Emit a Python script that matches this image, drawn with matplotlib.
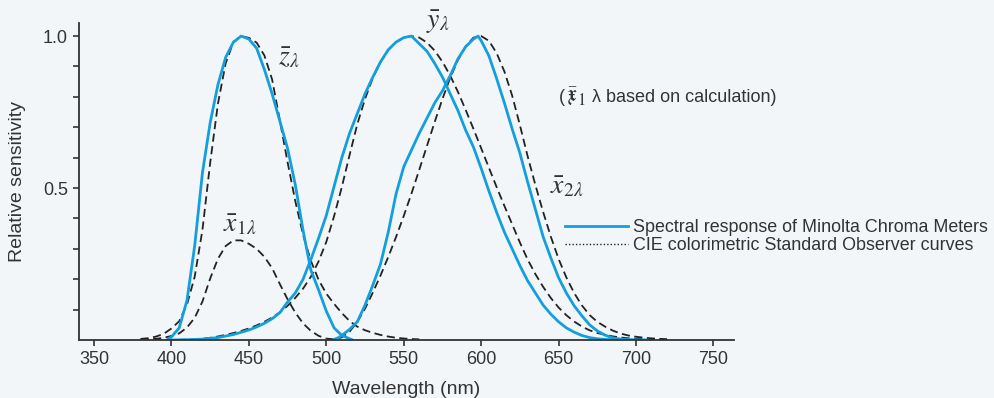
import matplotlib
matplotlib.use('Agg')
import matplotlib.pyplot as plt
import numpy as np
from matplotlib.lines import Line2D

plt.rcParams['font.family'] = ['Liberation Sans', 'DejaVu Sans']
plt.rcParams['mathtext.fontset'] = 'stix'

# CIE 1931 standard observer (dashed), 5 nm steps
wl_cie = list(range(380, 725, 5))
x_cie = [0.0014, 0.0022, 0.0042, 0.0077, 0.0143, 0.0232, 0.0435, 0.0776, 0.1344, 0.2148,
         0.2839, 0.3285, 0.3483, 0.3481, 0.3362, 0.3187, 0.2908, 0.2511, 0.1954, 0.1421,
         0.0956, 0.0580, 0.0320, 0.0147, 0.0049, 0.0024, 0.0093, 0.0291, 0.0633, 0.1096,
         0.1655, 0.2257, 0.2904, 0.3597, 0.4334, 0.5121, 0.5945, 0.6784, 0.7621, 0.8425,
         0.9163, 0.9786, 1.0263, 1.0567, 1.0622, 1.0456, 1.0026, 0.9384, 0.8544, 0.7514,
         0.6424, 0.5419, 0.4479, 0.3608, 0.2835, 0.2187, 0.1649, 0.1212, 0.0874, 0.0636,
         0.0468, 0.0329, 0.0227, 0.0158, 0.0114, 0.0081, 0.0058, 0.0041, 0.0029]
y_cie = [0.0000, 0.0001, 0.0001, 0.0002, 0.0004, 0.0006, 0.0012, 0.0022, 0.0040, 0.0073,
         0.0116, 0.0168, 0.0230, 0.0298, 0.0380, 0.0480, 0.0600, 0.0739, 0.0910, 0.1126,
         0.1390, 0.1693, 0.2080, 0.2586, 0.3230, 0.4073, 0.5030, 0.6082, 0.7100, 0.7932,
         0.8620, 0.9149, 0.9540, 0.9803, 0.9950, 1.0000, 0.9950, 0.9786, 0.9520, 0.9154,
         0.8700, 0.8163, 0.7570, 0.6949, 0.6310, 0.5668, 0.5030, 0.4412, 0.3810, 0.3210,
         0.2650, 0.2170, 0.1750, 0.1382, 0.1070, 0.0816, 0.0610, 0.0446, 0.0320, 0.0232,
         0.0170, 0.0119, 0.0082, 0.0057, 0.0041, 0.0029, 0.0021, 0.0015, 0.0010]
z_cie = [0.0065, 0.0106, 0.0201, 0.0362, 0.0679, 0.1102, 0.2074, 0.3713, 0.6456, 1.0391,
         1.3856, 1.6230, 1.7471, 1.7826, 1.7721, 1.7441, 1.6692, 1.5281, 1.2876, 1.0419,
         0.8130, 0.6162, 0.4652, 0.3533, 0.2720, 0.2123, 0.1582, 0.1117, 0.0783, 0.0573,
         0.0422, 0.0298, 0.0203, 0.0134, 0.0088, 0.0058, 0.0039]

# Minolta Chroma Meter response (blue)
wl_z = [397, 400, 405, 410, 415, 420, 425, 430, 435, 440, 445, 450, 455, 460, 465, 470,
        475, 480, 485, 490, 495, 500, 505, 510, 517]
z_min = [0.0, 0.01, 0.04, 0.13, 0.31, 0.55, 0.715, 0.84, 0.93, 0.98, 1.0, 0.99, 0.96,
         0.89, 0.81, 0.72, 0.63, 0.51, 0.36, 0.23, 0.165, 0.095, 0.04, 0.015, 0.0]
wl_y = [400, 410, 420, 430, 440, 450, 455, 460, 465, 470, 475, 480, 485, 490, 495, 500,
        505, 510, 515, 520, 525, 530, 535, 540, 545, 550, 555, 560, 565, 570, 575, 580,
        585, 590, 595, 600, 605, 610, 615, 620, 625, 630, 635, 640, 645, 650, 655, 660,
        665, 670, 675, 680, 690]
y_min = [0.0, 0.001, 0.003, 0.008, 0.018, 0.033, 0.043, 0.055, 0.07, 0.09, 0.125, 0.155,
         0.20, 0.265, 0.335, 0.41, 0.505, 0.60, 0.68, 0.745, 0.81, 0.865, 0.915, 0.955,
         0.98, 0.995, 1.0, 0.975, 0.95, 0.91, 0.865, 0.81, 0.755, 0.69, 0.635, 0.565,
         0.49, 0.42, 0.355, 0.30, 0.245, 0.195, 0.155, 0.115, 0.085, 0.06, 0.04, 0.026,
         0.015, 0.008, 0.004, 0.002, 0.0]
wl_x2 = [504, 508, 510, 515, 520, 525, 530, 535, 540, 545, 550, 555, 560, 565, 570, 575,
         580, 585, 590, 595, 598, 600, 605, 610, 615, 620, 625, 630, 635, 640, 645, 650,
         655, 660, 665, 670, 675, 680, 685, 690, 695, 700, 708]
x2_min = [0.0, 0.008, 0.015, 0.035, 0.06, 0.115, 0.18, 0.25, 0.355, 0.48, 0.57, 0.625,
          0.68, 0.73, 0.78, 0.82, 0.87, 0.925, 0.965, 0.99, 1.0, 0.985, 0.935, 0.86,
          0.78, 0.695, 0.615, 0.52, 0.43, 0.34, 0.27, 0.205, 0.155, 0.113, 0.08, 0.05,
          0.03, 0.016, 0.007, 0.003, 0.0015, 0.0008, 0.0]

x_ticks = [350, 400, 450, 500, 550, 600, 650, 700, 750]
y_ticks = [0.1, 0.2, 0.3, 0.4, 0.5, 0.6, 0.7, 0.8, 0.9, 1.0]
y_ticklabels = ['', '', '', '', '0.5', '', '', '', '', '1.0']

blue = '#139fdc'
dark = '#222222'
txt = '#333333'
bg = '#f3f6f9'

wl_cie = np.array(wl_cie)
x_cie = np.array(x_cie) / max(x_cie)
y_cie = np.array(y_cie) / max(y_cie)
z_cie = np.array(z_cie) / max(z_cie)
m1 = wl_cie <= 500
m2 = wl_cie >= 500

fig = plt.figure(figsize=(9.94, 3.98), dpi=100, facecolor=bg)
ax = fig.add_axes([0.0795, 0.1457, 0.6585, 0.7965])
ax.set_facecolor(bg)

dash = (0, (4.5, 2.5))
ax.plot(wl_cie[:len(z_cie)], z_cie, color=dark, lw=1.3, ls=dash)
ax.plot(wl_cie[m1], x_cie[m1], color=dark, lw=1.3, ls=dash)
ax.plot(wl_cie[m2], x_cie[m2], color=dark, lw=1.3, ls=dash)
ax.plot(wl_cie, y_cie, color=dark, lw=1.3, ls=dash)

ax.plot(wl_z, z_min, color=blue, lw=2.0, solid_capstyle='round')
ax.plot(wl_y, y_min, color=blue, lw=2.0, solid_capstyle='round')
ax.plot(wl_x2, x2_min, color=blue, lw=2.0, solid_capstyle='round')

ax.set_xlim(340.3, 763)
ax.set_ylim(0, 1.043)
ax.set_xticks(x_ticks)
ax.set_yticks(y_ticks)
ax.set_yticklabels(y_ticklabels)
ax.tick_params(length=4, width=1.2, color=txt, labelcolor=txt, labelsize=13, pad=4)
for s in ['top', 'right']:
    ax.spines[s].set_visible(False)
for s in ['bottom', 'left']:
    ax.spines[s].set_linewidth(1.3)
    ax.spines[s].set_color(txt)
ax.set_xlabel('Wavelength (nm)', fontsize=14, color=txt, labelpad=9)
ax.set_ylabel('Relative sensitivity', fontsize=14, color=txt, labelpad=12)

# curve labels
ax.text(476, 0.93, r'$\bar{z}_{\lambda}$', fontsize=20, color=txt, ha='center', va='center')
ax.text(444, 0.38, r'$\bar{x}_{1\lambda}$', fontsize=20, color=txt, ha='center', va='center')
ax.text(572, 1.045, r'$\bar{y}_{\lambda}$', fontsize=20, color=txt, ha='center', va='center')
ax.text(655, 0.505, r'$\bar{x}_{2\lambda}$', fontsize=20, color=txt, ha='center', va='center')

# note in the upper right
ny = 1 - 98 / 398
fig.text(559 / 994, ny, '(', fontsize=13, color=txt, ha='left', va='center')
fig.text(566 / 994, ny + 0.004, r'$\bar{\mathfrak{x}}_{1}$', fontsize=17, color=txt,
         ha='left', va='center')
fig.text(592 / 994, ny, 'λ based on calculation)', fontsize=13, color=txt,
         ha='left', va='center')

handles = [Line2D([], [], color=blue, lw=2.0),
           Line2D([], [], color=dark, lw=1.0, ls=(0, (1, 1.5)))]
labels = ['Spectral response of Minolta Chroma Meters',
          'CIE colorimetric Standard Observer curves']
fig.legend(handles, labels, loc='upper left', bbox_to_anchor=(565 / 994, 1 - 219 / 398),
           frameon=False, fontsize=12.9, handlelength=3.5, handletextpad=0.3,
           labelspacing=0.05, borderpad=0, borderaxespad=0, labelcolor=txt)

fig.savefig('out.png', dpi=100, facecolor=bg)
plt.close()
